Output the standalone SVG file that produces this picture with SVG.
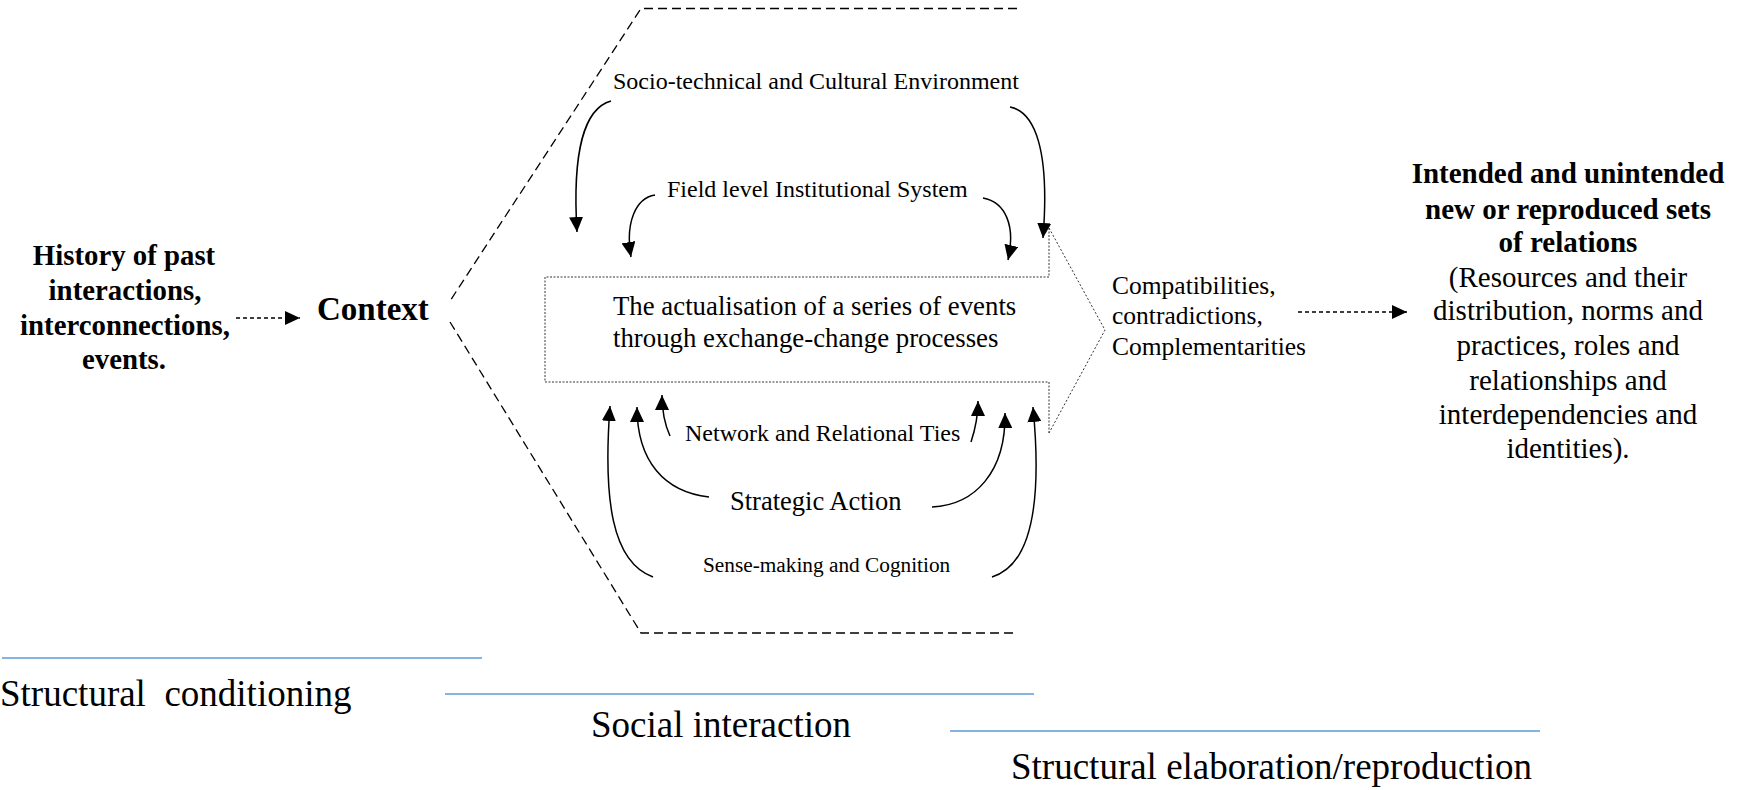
<svg xmlns="http://www.w3.org/2000/svg" width="1742" height="790" viewBox="0 0 1742 790">
<style>
text{font-family:"Liberation Serif","Times New Roman",serif;fill:#000}
.b{font-weight:bold}
.c{text-anchor:middle}
.dash{fill:none;stroke:#000;stroke-width:1.3;stroke-dasharray:9 5}
.sdash{fill:none;stroke:#000;stroke-width:1.3;stroke-dasharray:4 3}
.box{fill:none;stroke:#7a7a7a;stroke-width:1.5;stroke-dasharray:2 1.5}
.diag{fill:none;stroke:#333;stroke-width:1;stroke-dasharray:2 2}
.cur{fill:none;stroke:#000;stroke-width:1.5}
.blue{stroke:#5b9bd5;stroke-width:1.6}
</style>
<defs>
<marker id="ah" viewBox="0 0 15 14" refX="15" refY="7" markerWidth="15" markerHeight="14" markerUnits="userSpaceOnUse" orient="auto">
<path d="M0,0 L15,7 L0,14 z" fill="#000"/>
</marker>
</defs>
<rect width="1742" height="790" fill="#fff"/>

<g id="frame">
<path class="dash" d="M1017,8.5 L641,8.5 L450,301"/>
<path class="dash" d="M450,322 L641,633 L1018,633"/>
</g>

<g id="history">
<text class="b c" font-size="28.8" x="124" y="265">History of past</text>
<text class="b c" font-size="28.8" x="125" y="299.5">interactions,</text>
<text class="b c" font-size="28.8" x="125" y="334.5">interconnections,</text>
<text class="b c" font-size="28.8" x="124" y="368.5">events.</text>
</g>

<g id="context">
<text class="b" font-size="33" x="317" y="320">Context</text>
</g>

<g id="socio">
<text font-size="24" x="613" y="89">Socio-technical and Cultural Environment</text>
</g>

<g id="field">
<text font-size="24" x="667" y="197">Field level Institutional System</text>
</g>

<g id="events">
<path class="box" d="M1049,228 L1049,277 L545,277 L545,382 L1049,382 L1049,433"/>
<path class="diag" d="M1049,228 L1105,330 L1049,433"/>
<text font-size="26.8" x="613" y="315">The actualisation of a series of events</text>
<text font-size="26.8" x="613" y="347">through exchange-change processes</text>
</g>

<g id="network">
<text font-size="24" x="685" y="441">Network and Relational Ties</text>
</g>

<g id="strategic">
<text font-size="26.5" x="730" y="510">Strategic Action</text>
</g>

<g id="sense">
<text font-size="21.3" x="703" y="572">Sense-making and Cognition</text>
</g>

<g id="compat">
<text font-size="25.5" x="1112" y="294">Compatibilities,</text>
<text font-size="25.5" x="1112" y="324">contradictions,</text>
<text font-size="25.5" x="1112" y="355">Complementarities</text>
</g>

<g id="outcome">
<text class="b c" font-size="29" x="1568" y="183">Intended and unintended</text>
<text class="b c" font-size="29" x="1568" y="219">new or reproduced sets</text>
<text class="b c" font-size="29" x="1568" y="252">of relations</text>
<text class="c" font-size="29" x="1568" y="287">(Resources and their</text>
<text class="c" font-size="29" x="1568" y="320">distribution, norms and</text>
<text class="c" font-size="29" x="1568" y="355">practices, roles and</text>
<text class="c" font-size="29" x="1568" y="390">relationships and</text>
<text class="c" font-size="29" x="1568" y="424">interdependencies and</text>
<text class="c" font-size="29" x="1568" y="458">identities).</text>
</g>

<g id="phases">
<line class="blue" x1="2" y1="658" x2="482" y2="658"/>
<text font-size="37" x="0" y="706" xml:space="preserve">Structural  conditioning</text>
<line class="blue" x1="445" y1="694" x2="1034" y2="694"/>
<text font-size="37" x="591" y="737">Social interaction</text>
<line class="blue" x1="950" y1="731" x2="1540" y2="731"/>
<text font-size="37" x="1011" y="779">Structural elaboration/reproduction</text>
</g>

<g id="connectors">
<path class="sdash" d="M236,318 L300,318" marker-end="url(#ah)"/>
<path class="sdash" d="M1298,312 L1407,312" marker-end="url(#ah)"/>
<path class="cur" d="M611,101 C585,108 572,150 577,232" marker-end="url(#ah)"/>
<path class="cur" d="M1010,107 C1035,112 1050,150 1043,238" marker-end="url(#ah)"/>
<path class="cur" d="M655,195 C636,198 625,222 631,257" marker-end="url(#ah)"/>
<path class="cur" d="M983,198 C1005,202 1016,225 1008,260" marker-end="url(#ah)"/>
<path class="cur" d="M670,436 C665,425 662,412 662,395" marker-end="url(#ah)"/>
<path class="cur" d="M971,442 C975,430 978,418 978,401" marker-end="url(#ah)"/>
<path class="cur" d="M709,497 C665,492 637,462 637,407" marker-end="url(#ah)"/>
<path class="cur" d="M932,507 C975,505 1006,472 1005,413" marker-end="url(#ah)"/>
<path class="cur" d="M653,577 C612,562 603,500 610,406" marker-end="url(#ah)"/>
<path class="cur" d="M992,577 C1032,565 1042,500 1033,407" marker-end="url(#ah)"/>
</g>
</svg>
